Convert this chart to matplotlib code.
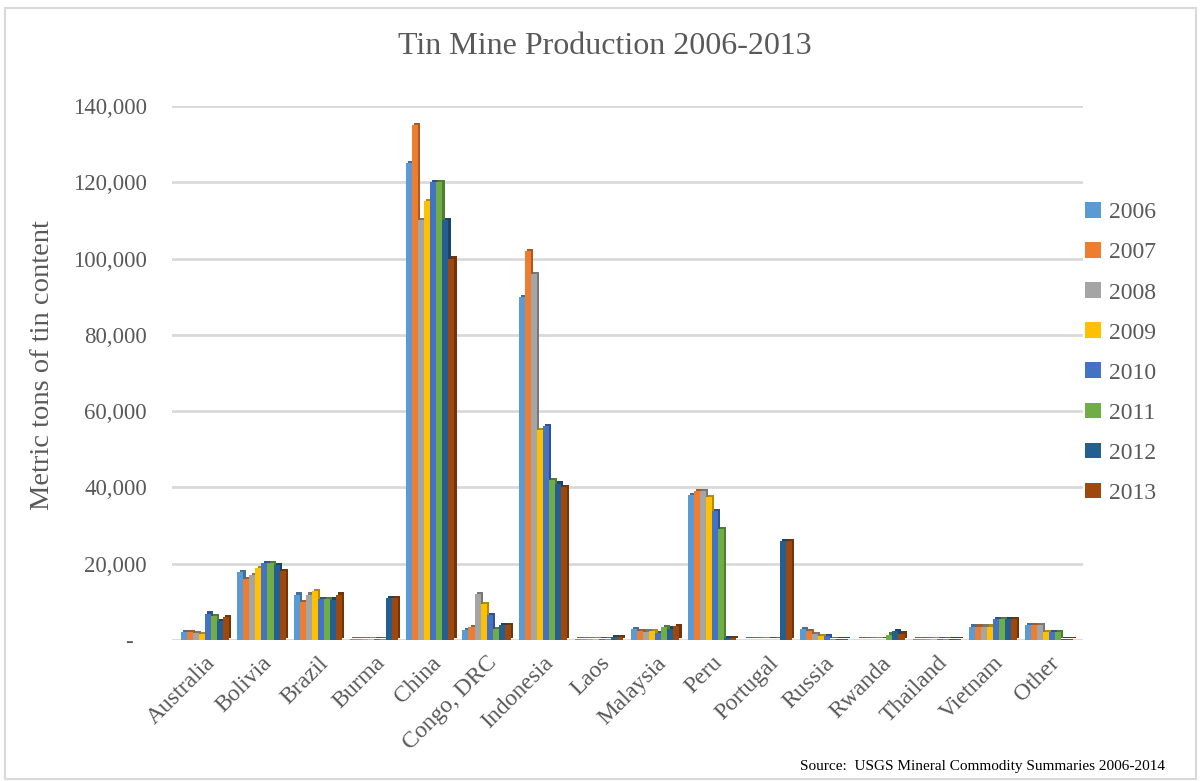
import matplotlib
matplotlib.use("Agg")
import matplotlib.pyplot as plt
import matplotlib.transforms as mtransforms
from matplotlib.patches import Rectangle
import numpy as np

countries = ["Australia", "Bolivia", "Brazil", "Burma", "China", "Congo, DRC",
             "Indonesia", "Laos", "Malaysia", "Peru", "Portugal", "Russia",
             "Rwanda", "Thailand", "Vietnam", "Other"]
years = ["2006", "2007", "2008", "2009", "2010", "2011", "2012", "2013"]

# metric tons of tin content, one list per year (same order as countries)
prod_2006 = [2000, 17800, 11900, 150, 125000, 2500, 90000, 150, 2900, 38000, 100, 2900, 100, 200, 3500, 4000]
prod_2007 = [2000, 15900, 10000, 150, 135000, 3400, 102000, 150, 2400, 39000, 100, 2400, 100, 200, 3500, 4000]
prod_2008 = [1800, 17000, 11900, 150, 110000, 12000, 96000, 150, 2200, 39000, 100, 1600, 100, 200, 3500, 4000]
prod_2009 = [1500, 18800, 12900, 150, 115000, 9400, 55000, 150, 2300, 37500, 100, 1100, 100, 200, 3500, 2000]
prod_2010 = [6900, 20200, 10800, 150, 120000, 6600, 56000, 150, 1800, 33800, 100, 1100, 100, 200, 5500, 2000]
prod_2011 = [6300, 20200, 10800, 150, 120000, 2800, 42000, 150, 3300, 29000, 100, 300, 1400, 200, 5500, 2000]
prod_2012 = [5000, 19700, 10600, 11000, 110000, 3900, 41000, 700, 3000, 500, 26000, 300, 2400, 300, 5500, 200]
prod_2013 = [5900, 18000, 11900, 11000, 100000, 3900, 40000, 800, 3700, 500, 26000, 300, 1700, 300, 5500, 200]

series = [prod_2006, prod_2007, prod_2008, prod_2009,
          prod_2010, prod_2011, prod_2012, prod_2013]
colors = ["#5B9BD5", "#ED7D31", "#A5A5A5", "#FFC000",
          "#4472C4", "#70AD47", "#255E91", "#9E480E"]


def darker(hex_color, f=0.72):
    rgb = np.array(matplotlib.colors.to_rgb(hex_color))
    return tuple(rgb * f)


plt.rcParams["font.family"] = ["Liberation Serif", "DejaVu Serif"]
text_color = "#595959"

fig = plt.figure(figsize=(12.01, 7.81), dpi=100)
ax = fig.add_axes([172 / 1201, 1 - 640 / 781, (1083 - 172) / 1201, (640 - 106) / 781])

x = np.arange(len(countries))
bar_w = 0.107
n = len(series)

# small offset copy behind each bar gives the column a shallow 3D look
depth = mtransforms.offset_copy(ax.transData, fig=fig, x=2.2, y=2.2, units="dots")

for i, (vals, c) in enumerate(zip(series, colors)):
    pos = x + (i - (n - 1) / 2) * bar_w
    ax.bar(pos, vals, width=bar_w, color=darker(c), transform=depth,
           zorder=2 + i * 0.01, linewidth=0)
    ax.bar(pos, vals, width=bar_w, color=c, label=years[i],
           zorder=2.005 + i * 0.01, linewidth=0)

ax.set_xlim(-0.59, 15.6)
ax.set_ylim(0, 140000)
ax.set_yticks(np.arange(0, 140001, 20000))
ax.set_yticklabels(["-"] + [f"{v:,}" for v in range(20000, 140001, 20000)])
ax.yaxis.grid(True, color="#D9D9D9", linewidth=2)
ax.set_axisbelow(True)
ax.tick_params(axis="y", length=0, pad=18, labelsize=16.5, labelcolor=text_color)
ax.tick_params(axis="x", length=0, pad=9, labelsize=17, labelcolor=text_color)
ax.set_xticks(x)
ax.set_xticklabels(countries, rotation=45, ha="right", rotation_mode="anchor")
for s in ax.spines.values():
    s.set_visible(False)

# the zero label sits a little further left than the numbers
zero_lbl = ax.get_yticklabels()[0]
zero_lbl.set_transform(zero_lbl.get_transform() +
                       mtransforms.ScaledTranslation(-14 / 100, 0, fig.dpi_scale_trans))

fig.text(43 / 1201, 1 - 365 / 781, "Metric tons of tin content", rotation=90,
         ha="center", va="center", fontsize=20.5, color=text_color)
fig.text(605 / 1201, 1 - 47 / 781, "Tin Mine Production 2006-2013",
         ha="center", va="center", fontsize=23, color=text_color)
fig.text(1165 / 1201, 1 - 770 / 781, "Source:  USGS Mineral Commodity Summaries 2006-2014",
         ha="right", va="baseline", fontsize=11, color="black")

leg = fig.legend(loc="upper left", bbox_to_anchor=(1064 / 1201, 1 - 181 / 781),
                 frameon=False, fontsize=17, handlelength=0.65, handleheight=0.65,
                 handletextpad=0.35, labelspacing=0.8)
for t in leg.get_texts():
    t.set_color(text_color)

# light outer frame around the whole chart
fig.patches.append(Rectangle((5 / 1201, 2 / 781), 1191 / 1201, 771 / 781,
                             transform=fig.transFigure, fill=False,
                             edgecolor="#D9D9D9", linewidth=1.5))

fig.savefig("out.png", dpi=100)
